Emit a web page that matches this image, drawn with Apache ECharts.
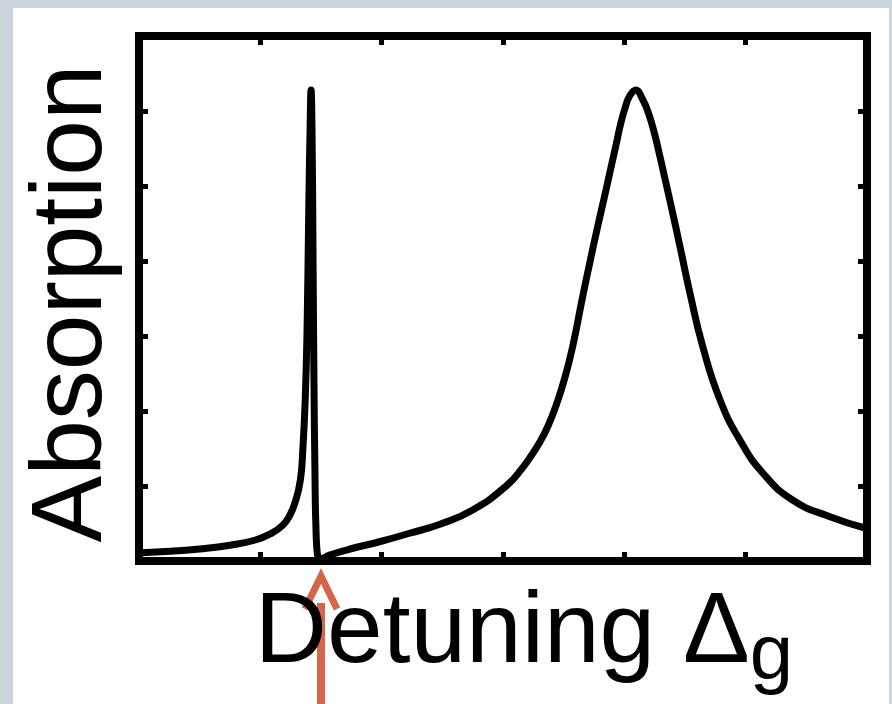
<!DOCTYPE html>
<html>
<head>
<meta charset="utf-8">
<script src="https://cdn.jsdelivr.net/npm/echarts@6/dist/echarts.min.js"></script>
<style>
  html, body { margin: 0; padding: 0; background: #c9d4db; }
  #panel { position: absolute; left: 13px; top: 8px; width: 876px; height: 696px; background: #ffffff; }
  #chart { position: absolute; left: 0; top: 0; width: 892px; height: 704px; }
</style>
</head>
<body>
<div id="panel"></div>
<div id="chart"></div>
<script>
// Detuning values (x, arbitrary units)
const detuning = [
  0.02, 0.26, 0.50, 0.75, 0.96, 1.08, 1.18, 1.24, 1.29, 1.33,
  1.35, 1.37, 1.385, 1.40, 1.41, 1.418, 1.426, 1.434, 1.442, 1.45,
  1.459, 1.475, 1.49, 1.57, 1.74, 1.99, 2.23, 2.48, 2.75, 3.033,
  3.165, 3.231, 3.305, 3.371, 3.445, 3.511, 3.577, 3.651, 3.717, 3.783,
  3.841, 3.882, 3.940, 3.964, 4.006, 4.047, 4.096, 4.146, 4.195, 4.245,
  4.294, 4.343, 4.393, 4.459, 4.541, 4.648, 4.788, 4.953, 5.143, 5.390,
  5.695, 5.984
];
// Absorption values (arbitrary units)
const absorption = [
  0.11, 0.13, 0.16, 0.21, 0.28, 0.36, 0.47, 0.60, 0.80, 1.08,
  1.48, 2.15, 3.08, 4.80, 5.75, 6.28, 5.75, 4.15, 2.41, 1.21,
  0.41, 0.04, 0.03, 0.08, 0.16, 0.26, 0.37, 0.49, 0.68, 1.01,
  1.25, 1.40, 1.59, 1.80, 2.11, 2.45, 2.88, 3.48, 3.99, 4.48,
  4.89, 5.19, 5.61, 5.79, 6.04, 6.21, 6.28, 6.17, 5.99, 5.72,
  5.39, 5.04, 4.68, 4.19, 3.57, 2.85, 2.15, 1.61, 1.17, 0.81,
  0.59, 0.44
];
// Axis ranges (no tick labels are shown in the figure)
const xRange = [0, 6];
const yRange = [0, 7];
// Detuning marked by the red arrow
const arrowDetuning = [1.5];

const FONT = "'Liberation Sans', Arial, Helvetica, sans-serif";
const points = detuning.map((x, i) => [x, absorption[i]]);

const chart = echarts.init(document.getElementById('chart'), null, { renderer: 'canvas' });

function tickStyle() {
  return { show: true, inside: true, length: 9, lineStyle: { color: '#000', width: 5 } };
}
function plainAxis(range, position) {
  return {
    type: 'value', min: range[0], max: range[1], interval: 1, position: position,
    axisLine: { show: false, onZero: false },
    axisTick: tickStyle(),
    axisLabel: { show: false, inside: true },
    splitLine: { show: false }
  };
}

const xBottom = plainAxis(xRange, 'bottom');
xBottom.name = '{m|Detuning Δ}{s|g}';
xBottom.nameLocation = 'middle';
xBottom.nameGap = 23;
xBottom.nameTextStyle = {
  padding: [0, 0, 0, 42],
  rich: {
    m: { fontFamily: FONT, fontSize: 100, lineHeight: 100, color: '#000', verticalAlign: 'top' },
    s: { fontFamily: FONT, fontSize: 78, lineHeight: 112, color: '#000', verticalAlign: 'bottom' }
  }
};
const xTop = plainAxis(xRange, 'top');

const yLeft = plainAxis(yRange, 'left');
yLeft.name = 'Absorption';
yLeft.nameLocation = 'middle';
yLeft.nameRotate = 90;
yLeft.nameGap = 16;
yLeft.nameTextStyle = { fontFamily: FONT, fontSize: 100, color: '#000', padding: [0, 10, 0, 0] };
const yRight = plainAxis(yRange, 'right');

chart.setOption({
  backgroundColor: 'transparent',
  animation: false,
  grid: {
    left: 139, right: 25, top: 36, bottom: 143,
    outerBoundsMode: 'none', containLabel: false,
    show: true, borderWidth: 8, borderColor: '#000', backgroundColor: 'transparent'
  },
  xAxis: [xBottom, xTop],
  yAxis: [yLeft, yRight],
  series: [
    {
      type: 'line', xAxisIndex: 0, yAxisIndex: 0,
      data: points, showSymbol: false, symbol: 'none',
      smooth: 0.5,
      lineStyle: { color: '#000', width: 7, cap: 'round', join: 'round' },
      z: 3
    }
  ]
});

function drawArrow() {
  const ax = chart.convertToPixel({ xAxisIndex: 0 }, arrowDetuning[0]);
  const y0 = chart.convertToPixel({ yAxisIndex: 0 }, yRange[0]);
  const tipY = y0 + 15;
  const color = '#d4674a';
  chart.setOption({
    graphic: [
      {
        type: 'group', z: 100,
        children: [
          { type: 'line', shape: { x1: ax, y1: tipY + 27, x2: ax, y2: 710 }, style: { stroke: color, lineWidth: 8 } },
          { type: 'polyline', shape: { points: [[ax - 16, tipY + 33], [ax, tipY], [ax + 16, tipY + 33]] },
            style: { stroke: color, lineWidth: 7, fill: null, lineJoin: 'miter' } }
        ]
      }
    ]
  });
}
drawArrow();
</script>
</body>
</html>
